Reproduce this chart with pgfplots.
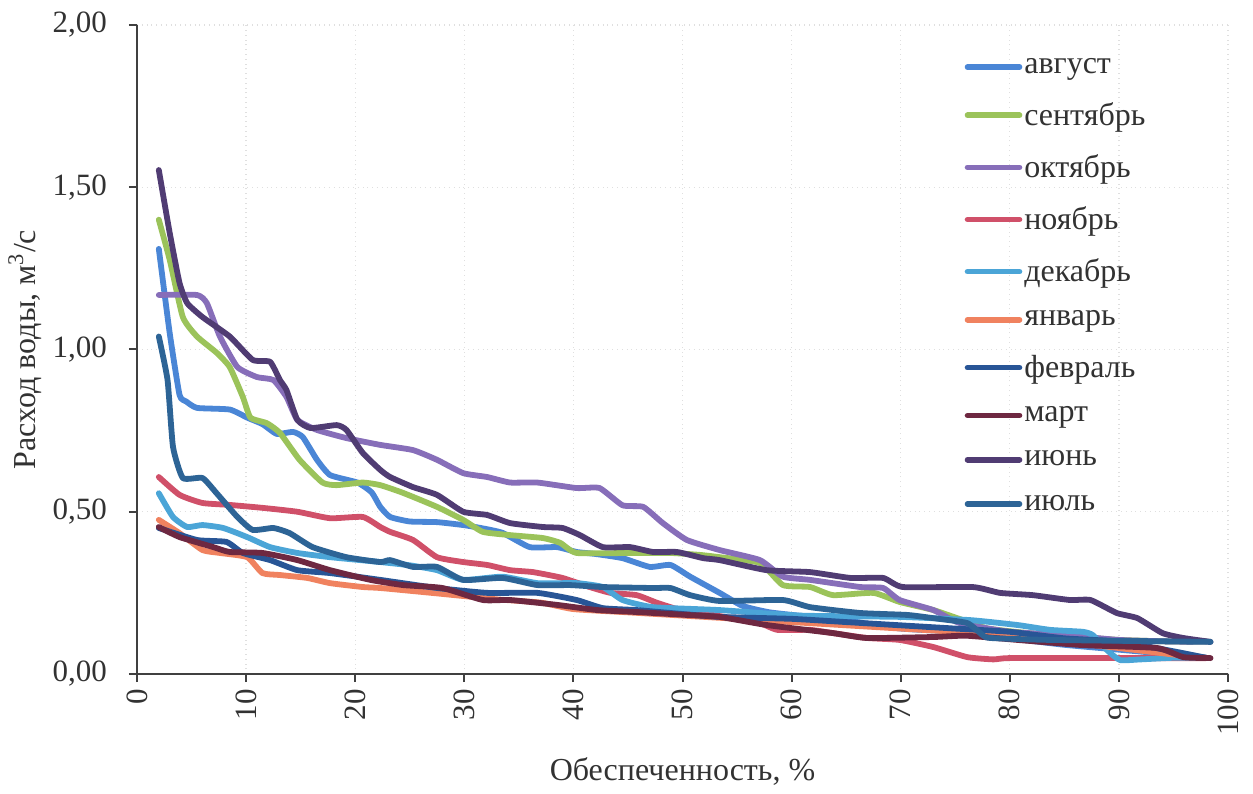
\documentclass[border=0pt]{standalone}
\usepackage{pgfplots}
\pgfplotsset{compat=1.18}
\usepackage{fontspec}
\setmainfont{Liberation Serif}
\definecolor{cAug}{RGB}{74,134,214}
\definecolor{cSep}{RGB}{155,195,90}
\definecolor{cOct}{RGB}{135,110,185}
\definecolor{cNov}{RGB}{208,80,105}
\definecolor{cDec}{RGB}{75,165,215}
\definecolor{cJan}{RGB}{240,130,95}
\definecolor{cFeb}{RGB}{40,85,150}
\definecolor{cMar}{RGB}{110,40,65}
\definecolor{cJun}{RGB}{80,60,115}
\definecolor{cJul}{RGB}{45,100,150}
\definecolor{axgray}{RGB}{64,64,64}
\definecolor{txtgray}{RGB}{50,50,50}
\begin{document}
\begin{tikzpicture}
\useasboundingbox (-68.5pt,-59.5pt) rectangle (558pt,337pt);
\begin{axis}[
  at={(0,0)}, anchor=south west,
  scale only axis, width=545.5pt, height=324.5pt,
  xmin=0, xmax=100, ymin=0, ymax=2,
  xtick={0,10,...,100}, ytick={0,0.5,1,1.5,2},
  axis x line=bottom, axis y line=left,
  axis line style={-, axgray, line width=1pt},
  tick style={axgray, line width=1pt},
  tick align=outside, major tick length=4pt,
  grid=major,
  major grid style={dotted, gray!25, line width=0.6pt},
  font=\fontsize{16}{19}\selectfont,
  tick label style={txtgray, font=\fontsize{15.5}{18}\selectfont},
  label style={txtgray},
  /pgf/number format/assume math mode=true,
  yticklabel style={xshift=-7.5pt, /pgf/number format/fixed, /pgf/number format/fixed zerofill, /pgf/number format/precision=2, /pgf/number format/use comma},
  xticklabel style={rotate=90, anchor=east},
  xlabel={Обеспеченность, \%},
  ylabel={Расход воды, м\textsuperscript{3}/с},
  xlabel style={at={(axis description cs:0.5,0)}, anchor=center, yshift=-49pt},
  ylabel style={at={(axis description cs:0,0.5)}, anchor=center, yshift=56pt},
  legend style={at={(rel axis cs:0.7528,0.962)}, anchor=north west, draw=none, fill=none,
    row sep=9.1pt, font=\fontsize{16}{19}\selectfont, text=txtgray,
    /tikz/every odd column/.append style={column sep=-1pt}},
  legend cell align=left,
  legend image code/.code={\draw[#1, line width=2.8pt, line cap=round] (0pt,0pt) -- (26pt,0pt);},
  every axis plot/.append style={line width=2.9pt, line join=round, line cap=round, smooth, tension=0.3},
]
\addplot[cAug] coordinates {(2,1.31) (3,1.05) (3.9,0.86) (4.5,0.84) (5.5,0.82) (8.5,0.815) (10.1,0.79) (11.5,0.77) (12.8,0.74) (14.3,0.746) (15.2,0.73) (16.5,0.66) (17.7,0.613) (20.2,0.59) (21.5,0.56) (22.3,0.515) (23.2,0.484) (25,0.47) (27.5,0.468) (29.9,0.459) (31.5,0.45) (33.5,0.435) (36,0.391) (38.5,0.391) (40.3,0.376) (42,0.37) (44.5,0.357) (47,0.33) (48.9,0.336) (50.7,0.30) (53.4,0.25) (55.5,0.21) (58,0.19) (62,0.175) (66,0.16) (70,0.14) (75,0.13) (80,0.11) (85,0.09) (90,0.075) (95,0.06) (98,0.05)};
\addlegendentry{август}
\addplot[cSep] coordinates {(2,1.40) (3,1.276) (4.2,1.10) (5.5,1.04) (7.3,0.99) (8.5,0.946) (9.7,0.854) (10.4,0.79) (11.9,0.773) (13.1,0.743) (14.9,0.66) (17,0.59) (18.3,0.582) (20.7,0.59) (22.3,0.582) (24.4,0.558) (27.5,0.515) (29.9,0.475) (31.7,0.438) (34.2,0.428) (37.2,0.419) (38.8,0.404) (40.3,0.373) (45.2,0.373) (48.9,0.373) (51.6,0.367) (53.4,0.36) (57.1,0.342) (59.2,0.274) (61.7,0.268) (63.8,0.243) (67.5,0.25) (69.9,0.222) (73,0.197) (75.7,0.166) (78,0.14) (82,0.125) (86,0.115) (90,0.105) (95,0.1) (98,0.1)};
\addlegendentry{сентябрь}
\addplot[cOct] coordinates {(2,1.168) (5.5,1.168) (6.4,1.143) (7.6,1.04) (9.2,0.946) (11,0.915) (12.5,0.906) (13.7,0.854) (14.7,0.783) (16.5,0.752) (19.2,0.727) (22.3,0.706) (25.3,0.69) (27.5,0.66) (29.9,0.619) (32.1,0.607) (34.2,0.59) (36.7,0.59) (40.3,0.573) (42.4,0.573) (44.5,0.52) (46.4,0.515) (48.2,0.465) (50.4,0.413) (53.4,0.382) (57.1,0.351) (59.2,0.30) (61.7,0.29) (66.3,0.268) (68.4,0.265) (69.9,0.228) (73,0.197) (75.4,0.157) (80,0.13) (85,0.12) (90,0.105) (95,0.1) (98,0.1)};
\addlegendentry{октябрь}
\addplot[cNov] coordinates {(2,0.607) (3.9,0.552) (6,0.527) (8.5,0.521) (11.5,0.512) (14.7,0.5) (17.7,0.48) (20.7,0.484) (22.3,0.453) (23.2,0.438) (25.3,0.413) (27.5,0.36) (29.9,0.345) (32.1,0.336) (34.2,0.32) (36.3,0.314) (39,0.296) (41.5,0.268) (43.4,0.25) (45.8,0.243) (47.7,0.219) (50,0.195) (51.6,0.188) (55,0.17) (57.1,0.157) (58.7,0.136) (61.7,0.136) (63.8,0.126) (66.9,0.111) (69.9,0.105) (73,0.083) (76.1,0.052) (78.5,0.045) (80,0.049) (90,0.049) (98,0.049)};
\addlegendentry{ноябрь}
\addplot[cDec] coordinates {(2,0.557) (3.3,0.484) (4.6,0.453) (6,0.459) (7.9,0.45) (10.1,0.422) (12.2,0.391) (14.7,0.373) (17.7,0.36) (22.3,0.345) (25,0.335) (27.5,0.32) (29.9,0.29) (33.5,0.30) (36.7,0.28) (40.3,0.28) (42.7,0.268) (44.5,0.228) (47.3,0.206) (53.4,0.197) (60.8,0.18) (69.9,0.176) (76.4,0.166) (80.7,0.151) (83.7,0.136) (86.7,0.13) (87.6,0.12) (88.9,0.074) (90.1,0.043) (92,0.045) (95,0.05) (98,0.05)};
\addlegendentry{декабрь}
\addplot[cJan] coordinates {(2,0.475) (3.9,0.434) (6,0.382) (7.6,0.373) (10.1,0.36) (11.5,0.311) (13.1,0.305) (15.6,0.296) (17.7,0.28) (20.7,0.268) (22.3,0.265) (27,0.25) (30,0.24) (33,0.23) (37,0.22) (40,0.2) (45,0.19) (50,0.18) (55,0.17) (60,0.16) (65,0.15) (70,0.14) (75,0.13) (80,0.12) (85,0.1) (90,0.08) (95,0.06) (98,0.05)};
\addlegendentry{январь}
\addplot[cFeb] coordinates {(2,0.45) (5.5,0.413) (8.2,0.407) (9.7,0.373) (12.2,0.351) (14.7,0.32) (17.7,0.311) (22.3,0.29) (27.5,0.265) (32.1,0.25) (36.7,0.25) (40.3,0.228) (42.7,0.203) (45.8,0.197) (48.9,0.188) (53.4,0.176) (60,0.17) (65,0.16) (70,0.15) (75,0.14) (80,0.13) (85,0.11) (90,0.1) (95,0.07) (98,0.05)};
\addlegendentry{февраль}
\addplot[cMar] coordinates {(2,0.453) (3.9,0.422) (7,0.391) (8.5,0.376) (11.5,0.373) (14.7,0.351) (17.7,0.32) (21.4,0.29) (24.4,0.274) (28,0.265) (31.7,0.228) (34.2,0.228) (38.5,0.213) (42.2,0.197) (45.8,0.191) (50.4,0.182) (53.4,0.176) (57.7,0.151) (63.8,0.126) (66.9,0.111) (73,0.114) (76,0.118) (80.7,0.105) (86.7,0.089) (93.5,0.08) (95.9,0.052) (98.4,0.049)};
\addlegendentry{март}
\addplot[cJun] coordinates {(2,1.553) (3,1.359) (3.9,1.205) (4.6,1.143) (6,1.10) (8.5,1.04) (10.6,0.968) (12.2,0.962) (13.1,0.906) (13.7,0.875) (14.7,0.783) (15.9,0.758) (18.3,0.767) (19.2,0.752) (20.7,0.681) (22.3,0.629) (23.2,0.607) (25.3,0.576) (27.5,0.552) (29.9,0.5) (32.1,0.49) (34.2,0.465) (37.2,0.453) (39,0.45) (40.6,0.428) (42.7,0.391) (45.2,0.391) (47.3,0.376) (49.5,0.376) (51.9,0.357) (53.4,0.351) (57.7,0.32) (61.7,0.314) (65.4,0.296) (68.4,0.296) (70.2,0.268) (76.6,0.268) (79.1,0.25) (82.1,0.243) (85.5,0.228) (87.4,0.228) (89.8,0.188) (91.7,0.172) (94,0.126) (95.9,0.111) (98.4,0.099)};
\addlegendentry{июнь}
\addplot[cJul] coordinates {(2,1.04) (2.8,0.906) (3.3,0.70) (4.2,0.604) (6,0.604) (7.3,0.557) (9.2,0.484) (10.6,0.444) (12.5,0.45) (14,0.434) (16.1,0.391) (19.2,0.36) (22.3,0.345) (23.2,0.351) (25.3,0.33) (27.5,0.33) (29.9,0.29) (33.5,0.296) (36.7,0.274) (39.7,0.274) (42.7,0.268) (47.3,0.265) (48.9,0.265) (50.7,0.243) (53.4,0.225) (59.2,0.228) (61.7,0.206) (66.3,0.188) (70.6,0.182) (73,0.172) (76.1,0.157) (77.5,0.12) (78.2,0.111) (83.7,0.105) (98.4,0.099)};
\addlegendentry{июль}
\end{axis}
\end{tikzpicture}
\end{document}
